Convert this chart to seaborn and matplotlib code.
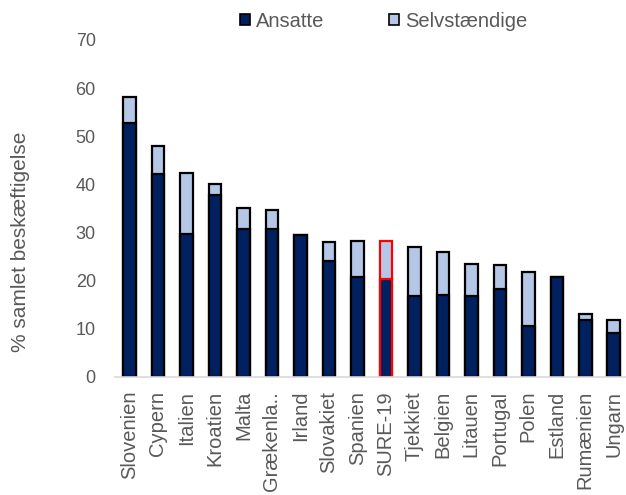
import matplotlib
matplotlib.use("Agg")
import matplotlib.pyplot as plt
import seaborn as sns
import pandas as pd
from matplotlib.patches import Patch

categories = ["Slovenien", "Cypern", "Italien", "Kroatien", "Malta", "Grækenla..",
              "Irland", "Slovakiet", "Spanien", "SURE-19", "Tjekkiet", "Belgien",
              "Litauen", "Portugal", "Polen", "Estland", "Rumænien", "Ungarn"]
ansatte = [52.7, 42.2, 29.6, 37.7, 30.7, 30.7, 29.4, 24.1, 20.8, 20.3, 16.8, 17.0,
           16.8, 18.2, 10.6, 20.8, 11.9, 9.2]
total = [58.1, 47.9, 42.3, 40.0, 35.2, 34.6, 29.4, 28.0, 28.3, 28.3, 26.9, 25.9,
         23.4, 23.2, 21.9, 20.8, 13.1, 11.9]
highlight = "SURE-19"
yticks = [0, 10, 20, 30, 40, 50, 60, 70]

df = pd.DataFrame({"land": categories, "ansatte": ansatte, "total": total})

sns.set_theme(style="white")
plt.rcParams["font.family"] = ["Liberation Sans", "DejaVu Sans"]

dark = "#002060"
light = "#B4C7E7"
grey_text = "#595959"

fig = plt.figure(figsize=(6.26, 4.95), dpi=100)
ax = fig.add_axes([0.1841, 0.2384, 0.8191, 0.6808])

sns.barplot(data=df, x="land", y="total", color=light, saturation=1,
            edgecolor="black", linewidth=1.6, width=0.44, ax=ax)
sns.barplot(data=df, x="land", y="ansatte", color=dark, saturation=1,
            edgecolor="black", linewidth=1.6, width=0.44, ax=ax)

idx = categories.index(highlight)
for cont in ax.containers:
    cont[idx].set_edgecolor("#FF0000")

ax.set_xlim(-0.5, len(categories) - 0.5)
ax.set_ylim(0, 70)
ax.set_yticks(yticks)
ax.set_yticklabels([str(v) for v in yticks])
ax.tick_params(axis="y", length=0, pad=14, labelsize=13, labelcolor=grey_text)
ax.tick_params(axis="x", length=0, pad=10, labelsize=14.5, labelcolor=grey_text,
               labelrotation=90)
ax.set_xlabel("")
ax.set_ylabel("% samlet beskæftigelse", fontsize=15, color=grey_text)
ax.yaxis.set_label_coords(-0.166, 0.40)

for s in ["left", "right", "top"]:
    ax.spines[s].set_visible(False)
ax.spines["bottom"].set_color("#D9D9D9")
ax.spines["bottom"].set_linewidth(1.2)
ax.grid(False)

handles = [Patch(facecolor=dark, edgecolor="black", linewidth=1.2, label="Ansatte"),
           Patch(facecolor=light, edgecolor="black", linewidth=1.2, label="Selvstændige")]
leg = fig.legend(handles=handles, loc="center", bbox_to_anchor=(0.613, 0.957), ncol=2,
                 frameon=False, fontsize=14.5, handlelength=0.5, handleheight=0.5,
                 handletextpad=0.3, columnspacing=3.2, borderaxespad=0)
for t in leg.get_texts():
    t.set_color(grey_text)

fig.savefig("out.png", dpi=100)
